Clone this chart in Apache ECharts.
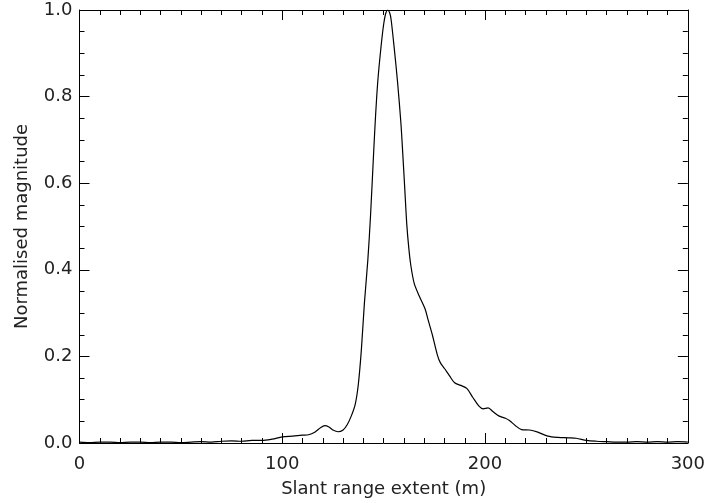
<!DOCTYPE html>
<html>
<head>
<meta charset="utf-8">
<script src="https://cdn.jsdelivr.net/npm/echarts@6/dist/echarts.min.js"></script>
<style>
html,body{margin:0;padding:0;background:#fff;}
#chart{width:708px;height:503px;}
</style>
</head>
<body>
<div id="chart"></div>
<script>
// Slant range (m)
var rangeX = [0,5,10,15,20,25,30,35,40,45,50,55,60,65,70,75,80,85,90,95,100,105,110,113,116,119,121,123,125,127.5,130,132,134,136,137.5,139,140.5,142.2,143.5,145,146,147.1,148.7,150,151,152,153,153.7,155.3,156.9,158.5,159.4,160.4,161.4,162.4,163.4,165.1,167.6,170.4,172,174,176.5,178,180,182.5,185,188,191,194,197,199,201.5,204,207,210,212,215,218,222,226,231,236,241,245,250,255,260,265,270,275,280,285,290,295,300];
// Normalised magnitude
var magnitude = [0.002,0.001,0.002,0.002,0.001,0.002,0.002,0.001,0.002,0.002,0.001,0.002,0.003,0.002,0.004,0.005,0.004,0.006,0.006,0.009,0.014,0.016,0.018,0.019,0.025,0.036,0.040,0.037,0.030,0.026,0.030,0.042,0.062,0.090,0.135,0.215,0.323,0.423,0.523,0.665,0.755,0.835,0.915,0.967,0.992,1.0,0.993,0.977,0.908,0.831,0.739,0.670,0.588,0.505,0.450,0.410,0.368,0.339,0.310,0.283,0.250,0.203,0.185,0.172,0.155,0.139,0.133,0.126,0.105,0.085,0.079,0.081,0.072,0.062,0.057,0.052,0.040,0.031,0.030,0.025,0.016,0.013,0.012,0.011,0.006,0.004,0.003,0.002,0.002,0.003,0.002,0.003,0.002,0.003,0.002];
var xTicks = [0,100,200,300];
var yTicks = [0.0,0.2,0.4,0.6,0.8,1.0];

var pts = rangeX.map(function(x,i){return [x, magnitude[i]];});
var FONT = 'DejaVu Sans';
var TXT = '#222';

var chart = echarts.init(document.getElementById('chart'), null, {renderer:'canvas'});
function xAxisCfg(pos, showLabel){
  return {
    type:'value', position:pos, min:xTicks[0], max:xTicks[xTicks.length-1], interval:100,
    name: showLabel ? 'Slant range extent (m)' : '', nameLocation:'middle', nameGap:37,
    nameTextStyle:{fontFamily:FONT,fontSize:18,color:TXT},
    axisLine:{show:true,onZero:false,lineStyle:{color:'#000',width:1}},
    axisTick:{show:true,inside:true,length:10,lineStyle:{color:'#000',width:1}},
    minorTick:{show:true,splitNumber:10,length:5,lineStyle:{color:'#000',width:1}},
    axisLabel:{show:showLabel,margin:12,fontFamily:FONT,fontSize:18,color:TXT},
    splitLine:{show:false}
  };
}
function yAxisCfg(pos, showLabel){
  return {
    type:'value', position:pos, min:yTicks[0], max:yTicks[yTicks.length-1], interval:0.2,
    name: showLabel ? 'Normalised magnitude' : '', nameLocation:'middle', nameGap:48,
    nameTextStyle:{fontFamily:FONT,fontSize:18,color:TXT},
    axisLine:{show:true,onZero:false,lineStyle:{color:'#000',width:1}},
    axisTick:{show:true,inside:true,length:10,lineStyle:{color:'#000',width:1}},
    minorTick:{show:true,splitNumber:4,length:5,lineStyle:{color:'#000',width:1}},
    axisLabel:{show:showLabel,margin:7,fontFamily:FONT,fontSize:18,color:TXT,
      formatter:function(v){return v.toFixed(1);}},
    splitLine:{show:false}
  };
}
chart.setOption({
  animation:false,
  backgroundColor:'#fff',
  grid:{left:79.5,top:10,width:609.5,height:433.5,containLabel:false},
  xAxis:[xAxisCfg('bottom',true), xAxisCfg('top',false)],
  yAxis:[yAxisCfg('left',true), yAxisCfg('right',false)],
  series:[{
    type:'line', xAxisIndex:0, yAxisIndex:0, data:pts,
    showSymbol:false, smooth:0.3,
    lineStyle:{color:'#000',width:1.2}
  }]
});
</script>
</body>
</html>
